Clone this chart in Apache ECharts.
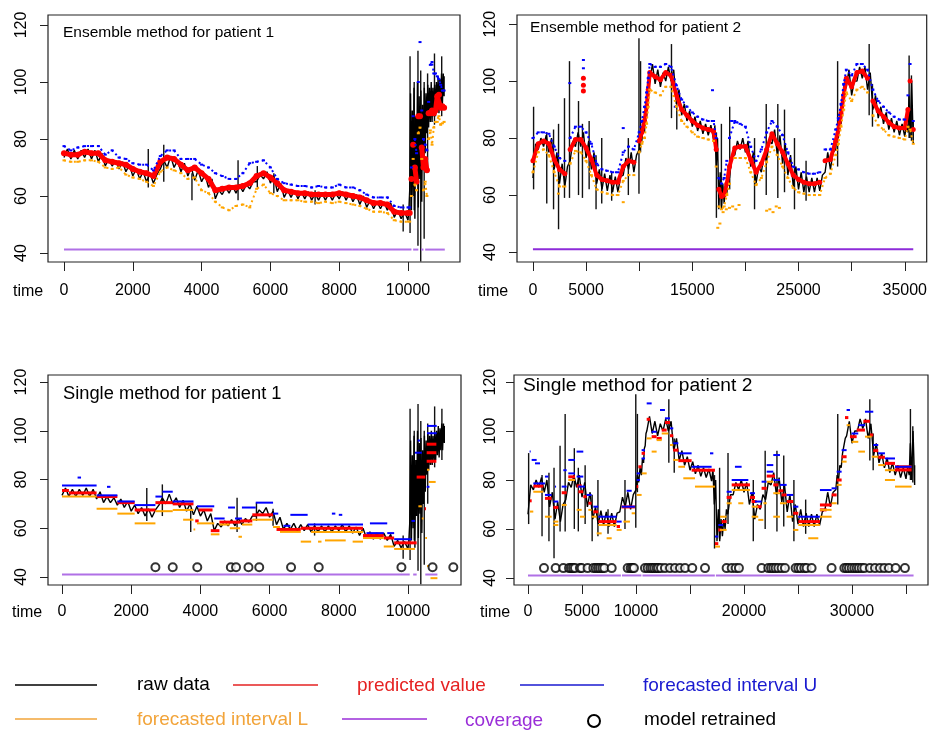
<!DOCTYPE html>
<html>
<head>
<meta charset="utf-8">
<script src="https://cdn.jsdelivr.net/npm/echarts@6/dist/echarts.min.js"></script>
<style>
  html, body { margin: 0; padding: 0; background: #fff; }
  #chart { width: 930px; height: 736px; }
</style>
</head>
<body>
<div id="chart"></div>
<script>
// ---------------- Patient 1 ----------------
const p1Time = [0,200,400,600,800,1000,1200,1400,1600,1800,2000,2200,2400,2600,2800,3000,3200,3400,3600,3800,
  4000,4200,4400,4600,4800,5000,5200,5400,5600,5800,6000,6200,6400,6600,6800,7000,7200,7400,7600,7800,
  8000,8200,8400,8600,8800,9000,9200,9400,9600,9800,10000,
  10050,10100,10150,10200,10250,10300,10350,10400,10450,10500,10550,10600,10650,10700,10750,10800,10850,10900,10950,11000,11050];
// raw data envelope (low / high reading in each slot)
const p1RawLo = [73.5,73,73,73.5,73,72,70.5,70.5,69.5,68.5, 67,66,65,64.5,69.5,70,70,68.5,67,65.5,
  65,63,59,60.5,61,61,61.5,62.5,65,66, 64.5,61.5,59.5,59.5,59,59,58.5,58.5,58.5,58.5,
  59,58.5,58,57,56,55.5,55.5,55,52.5,52, 51.5,
  62,55,60,52,65,56,66,58,70,75,82,84,86,86,88,88,90,89,92,92,95];
const p1RawHi = [76.5,76,76,76.5,76,75,73,72.5,72,71, 69.5,68.5,68,67.5,72.5,74,72.5,71.5,70,69,
  67.5,66,62,63,63.5,64,64,65,67.5,68.5, 67,64.5,62,62,61.5,61.5,61,61,61,61,
  61.5,61,60.5,60,58.5,58,58,57.5,55,54.5, 55,
  96,90,98,88,100,95,97,92,98,96,99,98,100,98,99,100,102,101,103,103,102];
// isolated raw excursions: [time, low, high]
const p1Spikes = [[2450,63,76.5],[2900,65,78],[3720,58.5,68],[5060,58.5,72.5],[5620,63,70.5],[6100,61,68],
  [7300,57,62],[9860,47.5,57],[10060,47,109],[10180,55,100],[10290,42.5,111],[10370,37,104],
  [10470,45,100],[10570,70,103],[10770,85,110],[10980,88,109]];

// ensemble method, patient 1
const p1EnsPred = [75,74.5,74.5,75.5,75,75,72.5,72,71.5,71, 69.5,68.5,68,67,72,73.5,73,71,69,70,
  68,66,62,62.5,63,63,63.5,64.5,67,68, 66.5,64.5,62,61.5,61,61,60.5,60.5,60.5,60.5,
  61,60.5,60,59.5,58.5,57.5,57.5,57,54.5,54, 54,
  54,66,78,70,65,88,88,77,70,73,69,89,89,90,89,90,95,95.5,91,91.5,91];
const p1EnsUpper = [77.5,76,77,77.5,77.5,77.5,74.5,76,73.5,73, 71.5,71,71,69,74,76,76,73,73,73,
  71,70,68,67,66,66,68,71.5,72,72.5, 70,66,64.5,64,63.5,63.5,63,63.5,63,63,
  64,63,63,62,60.5,59.5,59.5,59.5,56.5,56, 56,
  56,70,88,80,75,100,114,90,80,78,76,93,106,107,103,103,102,101,99,97,97];
const p1EnsLower = [72.5,72,72,72.5,72.5,72,70,69.5,70,67.5, 66.5,66,65,63.5,68.5,70,69,68,66,66.5,
  62,61,58,56,55,56.5,57,56,62.5,64, 61,60,58.5,58.5,58.5,58,58,57.5,58,57.5,
  58,57.5,57,56.5,55.5,54.5,54.5,54,51.5,51, 51,
  51,60,73,64,62,82,84,73,62,65,60,80,83,78,84,86,86,88,85,85.5,86];
const p1EnsCoverage = 41.2;
const p1EnsCoverageSpans = [[0,10100],[10150,10300],[10380,10450],[10500,11070]];

// single method, patient 1: horizontal pieces [from, to, value]
const p1SinglePred = [[0,200,75.5],[200,1000,74.5],[1000,1600,73],[1600,2100,70.5],[2100,2700,67.5],
  [2700,3200,70.5],[3200,3800,70],[3850,3950,63],[3950,4350,67.5],[4300,4550,59],[4550,5150,62.5],
  [5150,5500,63],[5500,6100,65.5],[6200,6900,59.5],[6900,8700,60],[8700,9300,57],[9300,9600,56],
  [9600,10250,54],[10250,10500,81],[10480,10520,68],[10540,10820,94.5],[10540,10820,91],[10540,10820,87.5]];
const p1SingleUpper = [[0,1000,77.5],[450,550,80.8],[1000,1600,73.5],[1300,1400,77],[1600,2100,71],
  [2100,2700,69.5],[2700,2900,73],[2900,3200,75],[3200,3800,71],[3900,4400,69],[4400,4700,64],
  [4800,5000,68.5],[5000,5200,64],[5200,5600,68.5],[5600,6100,70.5],[6100,6250,66],[6400,6600,61],
  [6600,7100,65.5],[7100,8700,61.5],[7800,7900,66],[8000,8100,65.5],[8800,9300,58],[8900,9400,62],
  [9400,9600,58],[9600,10100,55.5],[10100,10200,63],[10200,10400,91],[10280,10350,96],[10540,10620,77],
  [10550,10830,102],[10550,10830,99]];
const p1SingleLower = [[0,1000,73],[1000,1600,68],[1600,2100,66],[2100,2700,62],[2700,3200,67],
  [3200,3800,67.5],[3500,3800,63.5],[3800,3850,59.5],[3900,4400,62],[4300,4550,57.5],[4550,4850,61.5],
  [4850,5150,60],[5100,5200,56.5],[5200,5500,61.5],[5500,6100,63.5],[6100,6300,60.5],[6300,6900,58.5],
  [6900,7200,54.5],[7400,7500,54.5],[7200,8700,58.5],[7600,8200,55],[8400,8700,54.5],[8700,9300,56],
  [9300,9600,52.5],[9600,10200,51.5],[10300,10400,69],[10400,10450,64],[10500,10550,56],[10550,10620,84],
  [10600,10800,79],[10550,10600,44.5],[10650,10850,39.5]];
const p1SingleCoverage = 41;
const p1SingleCoverageSpans = [[0,10050],[10150,10250],[10500,10850]];
const p1Retrained = [2700,3200,3910,4880,5030,5390,5700,6620,7420,9810,10710,11310];
const retrainedLevel = 44;

// ---------------- Patient 2 ----------------
const p2Time = [0,500,1000,1500,2000,2500,3000,3500,4000,4500,5000,5500,6000,6500,7000,7500,8000,8500,9000,9500,10000,
  10250,10500,10700,10850,
  11000,11500,12000,12500,13000,13500,14000,14500,15000,15500,16000,16500,17000,
  17250,17500,17750,18000,18250,18500,
  19000,19500,20000,20500,21000,21500,22000,22500,23000,23500,24000,24500,25000,25500,26000,26500,27000,27500,28000,28500,
  28750,29000,29250,29500,
  30000,30500,31000,31500,32000,32500,33000,33500,34000,34500,35000,
  35300,35500,35800];
const p2RawLo = [66,76,77,75,69,64,63,72,77,77,73,69,64,62,61.5,61,61,67,69,68,76,
  79,82,87,94,
  100,99,98,100,100,92,88,86,84,82.5,81.5,81,79.5,
  70,55,55,57,60,66,
  74,76,75,70,64,68,72,78,74,71,67,63,62,61,61,61,61.5,68,69,76,
  80,85,91,98,
  95,100,101,97,90,87,85,83,82,81,80.5,
  82,80,78];
const p2RawHi = [78,80,81,80,75,71,70,79,82,82,79,75,69,67.5,67,66.5,66.5,73,75,74,82,
  85,89,93,99,
  106,104,103,105,104,97,92,89.5,87.5,86,85,84.5,84.5,
  80,68,64,64,68,74,
  79,80,79,75,70,74,79,83,81,78,74,70,68,66.5,66,66,67,75,75,82,
  86,91,97,104,
  100,105,105,103,95,91,89,87,86,85,85,
  95,100,86];
const p2Spikes = [[60,62,91],[1300,57,82],[1940,55,83],[2410,48,85],[2970,59,94],[3440,59,107],[4290,60,93],
  [4660,59,85],[5290,62,86],[5940,55,74],[6475,57,80],[7410,58,68],[8980,60,80],[9980,60.5,115],[10130,75,107],
  [13040,87,113],[13540,83,97],[17270,52,82],[17740,56,85],[18520,62,91],[20860,55,80],[21960,60,92],
  [23050,59,92],[23680,61,90],[24620,55,80],[25710,58,72],[28680,70,107],[31650,88,113],[31960,84,99],
  [35410,80,109],[35630,79,102]];

// ensemble method, patient 2
const p2EnsPred = [72,78,79,78,72.5,69,67.5,76,79.5,79.5,76.5,72.5,67,65.5,65,64.5,64.5,70,72,71.5,79,
  82,86,91,97,
  103,101.5,100.5,103,102,95,90,88,86,84.5,83.5,83,82.5,
  76,62,59.5,60,64,70,
  76.5,77,77,72.5,68,71,76,81.5,78,75,71,67,65.5,64.5,64,64,64.5,72,72.5,79,
  83,88.5,95,101,
  98,103,103.5,101,93,89.5,87.5,85.5,84,83.5,83.5,
  90,100,83];
const p2EnsUpper = [80,82,82,81.5,77,73,72,80,84,84,82,78,71,69,68.5,68,68,75,77,76,82,
  86,91,96,101,
  106,105,105,106,105,98.5,93.5,91,89,87.5,86.5,86,86,
  80,66,64,66,72,80,
  86,85,84,77,72,76,82,86,84,81,75,70,69,68,67.5,67.5,68,76,76,83,
  87,92,99,104,
  102,106,106,104,97,93,91,89,87.5,86.5,86.5,
  95,106,86];
const p2EnsLower = [68,75,76,74,68,63,63,71,75.5,75,72,67,62,61,60.5,60,60,65,67,67,75,
  78,80,85,91,
  97,96,95,98,98,91,86,84,82,80.5,80,79.5,79,
  70,56,55,56,60,64,
  73,73,73,68,63.5,66,71.5,77,74,70,66,62.5,61,60.5,60,60,60,66,67.5,74,
  78,84,90,96,
  93,97,98,96,88,84.5,83,81,80.5,80,79.5,
  84,83,78];
// stray ensemble readings: [time, value]
const p2EnsPredStray = [[4750,101],[4750,98.5],[4750,96.5]];
const p2EnsUpperStray = [[4750,107.4],[4750,104.5],[3470,99.3],[16900,96.8],[8500,83.5],[13400,91],[18700,86],[19100,85.5]];
const p2EnsLowerStray = [[17400,48.5],[17600,50],[17900,54],[18200,55],[18500,55.5],[18800,56],[19100,55],[19400,56.5],
  [22000,54.5],[22300,55],[22600,54],[22900,56],[23200,55.5],[2400,60.5],[8500,57.5]];
const p2EnsCoverage = 41;
const p2EnsCoverageSpans = [[0,35800]];

// single method, patient 2: horizontal pieces [from, to, value]
const p2SinglePred = [[180,340,71.5],[500,1420,77.5],[1570,2190,72.5],[2350,2810,68.8],[3120,3580,74.8],
  [3730,4350,81.3],[4500,4970,77.6],[4660,5120,75.2],[5120,5430,73.2],[5590,5890,70.5],[6050,6510,67],
  [6510,8210,63],[8210,8520,61],[8670,9900,69],[10060,10210,77.3],[10220,10520,85.4],[10520,10830,90.9],
  [10990,11300,104.8],[11450,11910,97.7],[11910,12380,97],[12380,12840,100.4],[12680,13150,103.5],
  [13150,13450,98.1],[13450,13920,92.2],[13920,15150,87.9],[15150,17310,84],[17310,17620,54],
  [17620,17930,59.6],[17930,18390,63],[18390,18860,72.9],[18860,20550,78],[20550,21020,72.9],
  [20700,21170,71.2],[21170,21630,69.1],[21630,22100,76.6],[22100,22870,81.6],[22710,23180,78],
  [23180,23640,75.6],[23480,23950,73.9],[23950,24560,71.2],[24560,25030,66.4],[25030,27030,63],
  [27030,28110,69.8],[27030,27650,67.8],[28110,28580,73.9],[28580,29040,80],[29040,29500,89.5],
  [29350,29660,105.5],[29810,30430,97.7],[30430,31200,100.4],[31050,31660,104],[31660,31970,98.4],
  [31970,32430,92],[32430,33050,89.3],[33050,33980,86.8],[33980,35520,84.1],[33980,35520,85.4]];
const p2SingleUpper = [[150,250,91.6],[340,800,88.2],[650,1110,86.8],[490,1570,78.6],[1570,2190,73.9],
  [1570,1900,81.4],[2350,2810,71.2],[2500,2600,77.3],[3120,3580,77.3],[3270,3580,84],[3730,4350,82.7],
  [3730,4350,88.2],[4500,5120,91.6],[4500,5120,81.4],[4660,5280,77.3],[5430,5890,73.9],[6050,6510,69.1],
  [6510,8210,65],[8210,8670,63],[8670,9900,69.1],[9130,9600,75.6],[10060,10370,80],[10060,10370,82.7],
  [10520,10830,88.8],[10520,10830,92.2],[10990,11450,111.3],[11450,11910,99.7],[12220,12680,108.6],
  [12680,13150,105.2],[13150,13450,101.1],[13450,13920,95],[13920,15150,90.9],[15150,17000,85.4],
  [16850,17160,90.9],[17310,17620,56.9],[17620,18080,61.6],[18390,18860,75.2],[18860,20400,80],
  [19160,19780,85.4],[20550,21020,74.6],[21020,21630,71.2],[21630,22100,79.3],[22100,22710,83.4],
  [22100,22710,86.1],[22710,23330,80],[22710,23330,90.2],[23330,23950,78],[23950,24560,73.9],
  [24560,25030,69.1],[25030,27030,65],[27030,28110,75.9],[28110,28580,76.6],[28580,29040,83.4],
  [29040,29500,92.2],[29500,29810,108.6],[29960,30580,99],[30580,31200,102.4],[31200,31970,107.9],
  [31970,32430,94.3],[32430,33050,90.9],[33050,33980,88.8],[33980,35520,85.4]];
const p2SingleLower = [[180,490,67.1],[490,1420,75.2],[1570,2190,65],[2350,2810,63],[2350,2810,61.6],
  [3120,3580,69.8],[3730,4350,80],[4500,4970,67.8],[4810,5280,65],[5590,5890,67.8],[5890,6360,65],
  [6360,6820,58.2],[6510,8210,61.6],[7280,7750,56.2],[8210,8670,59.6],[8830,9440,63],[9600,9910,66.4],
  [10060,10520,73.9],[10520,10990,82.7],[10990,11450,97],[11450,11910,91.6],[11910,12380,96.3],
  [12380,13000,99],[13150,13450,94.3],[13450,13920,88.2],[13920,14540,85.4],[14380,15460,80.7],
  [15460,17310,77.3],[17310,17780,52.8],[17780,18390,59.6],[17780,18390,65],[18390,18860,70.5],
  [18860,20550,75.9],[19470,19940,70.5],[20710,21320,69.1],[20710,21320,65],[21320,21790,63.7],
  [21790,22100,70.5],[22100,22710,79.3],[22710,23330,74.6],[22710,23330,65],[23330,23950,70.5],
  [23950,24560,65],[24560,25030,59.6],[25030,27030,61.6],[25950,26880,56.2],[27030,28110,65],
  [27030,28110,67.8],[28110,28580,70.5],[28580,29040,78],[29040,29500,87.5],[29500,29810,102.4],
  [29960,30580,95.6],[30580,31200,91.6],[31200,31820,97.7],[31820,32430,89.5],[32430,33050,86.1],
  [33050,33980,84],[33050,33980,80],[33980,35520,77.3]];
const p2SingleCoverage = 41;
const p2SingleCoverageSpans = [[0,8600],[8700,10500],[10600,17300],[17400,35700]];
const p2Retrained = [1480,2560,3270,3800,3980,4170,4350,4810,4970,5520,6050,6270,6480,6670,6880,7070,7750,
  9230,9500,9660,9810,10830,11080,11330,11510,11700,11910,12070,12310,12680,13150,13610,14070,14540,15210,
  16390,18390,18860,19230,19530,21630,22250,22500,22710,22930,23180,23480,23790,24780,25030,25270,25580,
  25800,26260,28110,29290,29500,29720,29970,30210,30430,30640,30890,31140,31660,32130,32590,32990,33420,
  34040,34900];

// ---------------- axes / text ----------------
const yTicks = [40, 60, 80, 100, 120];
const p1XTicks = [0, 2000, 4000, 6000, 8000, 10000];
const p2XTicks = [0, 5000, 10000, 15000, 20000, 25000, 30000, 35000];
const p2EnsXLabels = [0, 5000, 15000, 25000, 35000];
const p2SingleXLabels = [0, 5000, 10000, 20000, 30000];
const panelTitles = ['Ensemble method for patient 1', 'Ensemble method for patient 2',
                     'Single method for patient 1', 'Single method for patient 2'];
const legendNames = ['raw data', 'predicted value', 'forecasted interval U',
                     'forecasted interval L', 'coverage', 'model retrained'];

const FONT = '"Liberation Sans", Arial, Helvetica, sans-serif';
const C = { raw: '#000000', pred: '#ff0000', upper: '#0000ff', lower: '#ffa500' };
const covLight = '#b070e6';
const covDark = '#8d2bd9';

// ---------------- helpers ----------------
const pair = (t, v) => t.map((x, i) => [x, v[i]]);
// leave a gap in a trace wherever two successive readings are far apart
function withGaps(points, limit) {
  const out = [];
  points.forEach((p, i) => {
    if (i > 0 && Math.abs(p[1] - points[i - 1][1]) > limit) out.push([p[0], '-']);
    out.push(p);
  });
  return out;
}
function zigzag(t, lo, hi) {
  const pts = [];
  for (let i = 0; i < t.length; i++) {
    const next = i + 1 < t.length ? t[i + 1] : t[i];
    pts.push([t[i], lo[i]], [(t[i] + next) / 2, hi[i]]);
  }
  return pts;
}
function vSeg(color, width) {
  return function (params, api) {
    const a = api.coord([api.value(0), api.value(1)]);
    const b = api.coord([api.value(0), api.value(2)]);
    return { type: 'line', shape: { x1: a[0], y1: a[1], x2: b[0], y2: b[1] },
             style: { stroke: color, lineWidth: width } };
  };
}
function hSeg(color, width) {
  return function (params, api) {
    const a = api.coord([api.value(0), api.value(2)]);
    const b = api.coord([api.value(1), api.value(2)]);
    return { type: 'line', shape: { x1: a[0], y1: a[1], x2: b[0], y2: b[1] },
             style: { stroke: color, lineWidth: width } };
  };
}
function spans(list, v) { return list.map(s => [s[0], s[1], v]); }

function rawSeries(g, t, lo, hi, spikes) {
  return [
    { name: legendNames[0], type: 'line', xAxisIndex: g, yAxisIndex: g, data: zigzag(t, lo, hi),
      showSymbol: false, lineStyle: { color: C.raw, width: 1.4 }, itemStyle: { color: C.raw },
      silent: true, z: 1 },
    { name: legendNames[0], type: 'custom', xAxisIndex: g, yAxisIndex: g, data: spikes,
      encode: { x: 0, y: [1, 2] }, renderItem: vSeg('#111', 1.4), clip: true, silent: true, z: 1 }
  ];
}
// ensemble output: a chain of dots joined where the readings are close
function chainSeries(g, name, pts, color, width, dash, symbol, size, z) {
  return { name, type: 'line', xAxisIndex: g, yAxisIndex: g, data: withGaps(pts, 7),
           connectNulls: false, showSymbol: true, symbol, symbolSize: size,
           lineStyle: { color, width, type: dash }, itemStyle: { color, borderWidth: 0 },
           silent: true, z };
}
function segSeries(g, name, data, color, width, z) {
  return { name, type: 'custom', xAxisIndex: g, yAxisIndex: g, data,
           encode: { x: [0, 1], y: 2 }, renderItem: hSeg(color, width), clip: true, silent: true, z };
}
function dotSeries(g, name, data, color, symbol, size, z) {
  return { name, type: 'scatter', xAxisIndex: g, yAxisIndex: g, data, symbol, symbolSize: size,
           itemStyle: { color, opacity: 1 }, silent: true, z };
}
function retrainedSeries(g, times) {
  return { name: legendNames[5], type: 'scatter', xAxisIndex: g, yAxisIndex: g,
           data: times.map(t => [t, retrainedLevel]), symbol: 'emptyCircle', symbolSize: 8,
           itemStyle: { color: '#000', borderColor: '#000', borderWidth: 1 }, silent: true, z: 6 };
}

// ---------------- layout ----------------
const boxes = [
  { left: 48,  top: 15,  width: 412, height: 247, x: [-465, 11512],  y: [36.84, 123.5] },
  { left: 517, top: 15,  width: 411, height: 247, x: [-1501, 37065], y: [36.5, 123.2] },
  { left: 48,  top: 375, width: 413, height: 210, x: [-405, 11532],  y: [36.7, 122.9] },
  { left: 514, top: 375, width: 414, height: 210, x: [-1296, 37037], y: [37.1, 122.9] }
];
const xTickSets  = [p1XTicks, p2XTicks, p1XTicks, p2XTicks];
const xLabelSets = [p1XTicks, p2EnsXLabels, p1XTicks, p2SingleXLabels];

const grid = boxes.map(b => ({ left: b.left, top: b.top, width: b.width, height: b.height,
  show: true, borderColor: '#222', borderWidth: 1.2, backgroundColor: 'transparent' }));

const plain = v => String(v);
const xAxis = boxes.map((b, i) => ({
  type: 'value', gridIndex: i, min: b.x[0], max: b.x[1],
  splitLine: { show: false }, axisLine: { show: false, onZero: false },
  axisTick: { show: true, customValues: xTickSets[i], length: 9, lineStyle: { color: '#222', width: 1 } },
  axisLabel: { customValues: xLabelSets[i], formatter: plain, margin: i < 2 ? 21 : 19,
               fontSize: 16, color: '#000', fontFamily: FONT }
}));
const yAxis = boxes.map((b, i) => ({
  type: 'value', gridIndex: i, min: b.y[0], max: b.y[1],
  splitLine: { show: false }, axisLine: { show: false, onZero: false },
  axisTick: { show: true, customValues: yTicks, length: 8, lineStyle: { color: '#222', width: 1 } },
  axisLabel: { customValues: yTicks, formatter: plain, rotate: 90, margin: i === 3 ? 15 : 18,
               fontSize: 16, color: '#000', fontFamily: FONT }
}));

const series = [
  // ensemble, patient 1
  ...rawSeries(0, p1Time, p1RawLo, p1RawHi, p1Spikes),
  chainSeries(0, legendNames[1], pair(p1Time, p1EnsPred), C.pred, 5, 'solid', 'circle', 6, 2),
  chainSeries(0, legendNames[2], pair(p1Time, p1EnsUpper), C.upper, 2, [2, 3], 'rect', [3, 2], 3),
  chainSeries(0, legendNames[3], pair(p1Time, p1EnsLower), C.lower, 2, [2, 3], 'rect', [3, 2], 3),
  segSeries(0, legendNames[4], spans(p1EnsCoverageSpans, p1EnsCoverage), covLight, 2, 4),

  // ensemble, patient 2
  ...rawSeries(1, p2Time, p2RawLo, p2RawHi, p2Spikes),
  chainSeries(1, legendNames[1], pair(p2Time, p2EnsPred), C.pred, 4, 'solid', 'circle', 5, 2),
  dotSeries(1, legendNames[1], p2EnsPredStray, C.pred, 'circle', 5, 2),
  chainSeries(1, legendNames[2], pair(p2Time, p2EnsUpper), C.upper, 2, [2, 3], 'rect', [3, 2], 3),
  dotSeries(1, legendNames[2], p2EnsUpperStray, C.upper, 'rect', [3, 2], 3),
  chainSeries(1, legendNames[3], pair(p2Time, p2EnsLower), C.lower, 2, [2, 3], 'rect', [3, 2], 3),
  dotSeries(1, legendNames[3], p2EnsLowerStray, C.lower, 'rect', [3, 2], 3),
  segSeries(1, legendNames[4], spans(p2EnsCoverageSpans, p2EnsCoverage), covDark, 2, 4),

  // single, patient 1
  ...rawSeries(2, p1Time, p1RawLo, p1RawHi, p1Spikes),
  segSeries(2, legendNames[1], p1SinglePred, C.pred, 3, 3),
  segSeries(2, legendNames[2], p1SingleUpper, C.upper, 2, 3),
  segSeries(2, legendNames[3], p1SingleLower, C.lower, 2, 3),
  segSeries(2, legendNames[4], spans(p1SingleCoverageSpans, p1SingleCoverage), covLight, 2, 4),
  retrainedSeries(2, p1Retrained),

  // single, patient 2
  ...rawSeries(3, p2Time, p2RawLo, p2RawHi, p2Spikes),
  segSeries(3, legendNames[1], p2SinglePred, C.pred, 3, 3),
  segSeries(3, legendNames[2], p2SingleUpper, C.upper, 2, 3),
  segSeries(3, legendNames[3], p2SingleLower, C.lower, 2, 3),
  segSeries(3, legendNames[4], spans(p2SingleCoverageSpans, p2SingleCoverage), covLight, 2, 4),
  retrainedSeries(3, p2Retrained)
];

// panel captions and the "time" axis words
const capStyle = size => ({ fontSize: size, fontWeight: 'normal', color: '#000', fontFamily: FONT });
const title = [
  { text: panelTitles[0], left: 63,  top: 25,  padding: 0, textStyle: capStyle(15.5) },
  { text: panelTitles[1], left: 530, top: 20,  padding: 0, textStyle: capStyle(15.5) },
  { text: panelTitles[2], left: 63,  top: 385, padding: 0, textStyle: capStyle(18.3) },
  { text: panelTitles[3], left: 523, top: 376, padding: 0, textStyle: capStyle(19.2) },
  { text: 'time', left: 13,  top: 284, padding: 0, textStyle: capStyle(16) },
  { text: 'time', left: 478, top: 284, padding: 0, textStyle: capStyle(16) },
  { text: 'time', left: 12,  top: 605, padding: 0, textStyle: capStyle(16) },
  { text: 'time', left: 480, top: 605, padding: 0, textStyle: capStyle(16) }
];

// shared key below the panels
function keyLine(x1, x2, y, color) {
  return { type: 'line', shape: { x1, y1: y, x2, y2: y }, style: { stroke: color, lineWidth: 1.6 }, silent: true };
}
function keyText(x, y, text, color) {
  return { type: 'text', x, y, style: { text, fill: color, fontSize: 19, fontFamily: FONT,
           verticalAlign: 'middle', align: 'left' }, silent: true };
}
const graphic = [
  keyLine(15, 97, 685, C.raw),       keyText(137, 685, legendNames[0], '#000'),
  keyLine(233, 318, 685, '#e52222'), keyText(357, 686, legendNames[1], '#e52222'),
  keyLine(520, 604, 685, '#1a1ad0'), keyText(643, 686, legendNames[2], '#1a1ad0'),
  keyLine(15, 97, 719, '#f2a43a'),   keyText(137, 720, legendNames[3], '#f2a43a'),
  keyLine(342, 427, 719, '#9a2ed8'), keyText(465, 721, legendNames[4], '#9a2ed8'),
  { type: 'circle', shape: { cx: 594, cy: 721, r: 6 }, style: { fill: 'none', stroke: '#000', lineWidth: 2 }, silent: true },
  keyText(644, 720, legendNames[5], '#000')
];

const chart = echarts.init(document.getElementById('chart'), null, { renderer: 'canvas' });
chart.setOption({
  animation: false,
  backgroundColor: '#fff',
  textStyle: { fontFamily: FONT },
  title, grid, xAxis, yAxis, series, graphic
});
</script>
</body>
</html>
